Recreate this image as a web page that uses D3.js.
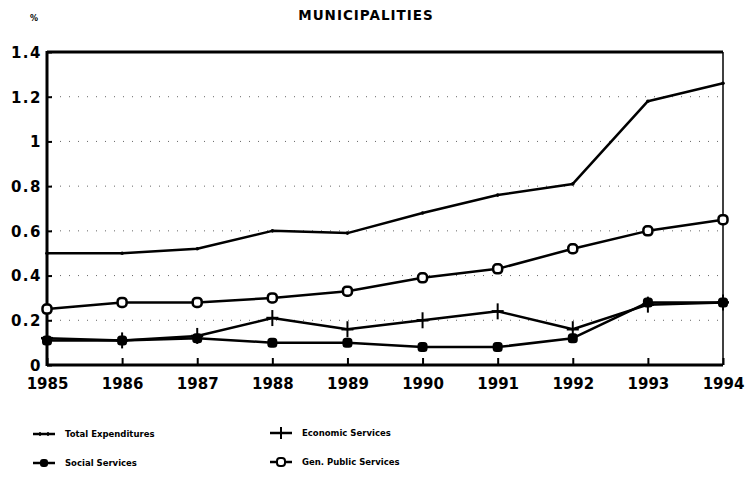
<!DOCTYPE html>
<html><head><meta charset="utf-8">
<script src="https://cdn.jsdelivr.net/npm/d3@7"></script>
<style>body{margin:0;background:#fff}svg{display:block}text{font-family:"DejaVu Sans",sans-serif;font-weight:bold;fill:#000}</style>
</head><body>
<svg id="c" width="746" height="479"></svg>
<script>
const years = [1985,1986,1987,1988,1989,1990,1991,1992,1993,1994];
const totalExp = [0.50,0.50,0.52,0.60,0.59,0.68,0.76,0.81,1.18,1.26];
const socialServ = [0.11,0.11,0.12,0.10,0.10,0.08,0.08,0.12,0.28,0.28];
const econServ = [0.12,0.11,0.13,0.21,0.16,0.20,0.24,0.16,0.27,0.28];
const genPublic = [0.25,0.28,0.28,0.30,0.33,0.39,0.43,0.52,0.60,0.65];
const yTicks = [0,0.2,0.4,0.6,0.8,1,1.2,1.4];
const seriesNames = ["Total Expenditures","Social Services","Economic Services","Gen. Public Services"];

const svg = d3.select("#c");
const L=47,R=723,T=52,B=365;
const x = d3.scaleLinear().domain([1985,1994]).range([L,R]);
const y = d3.scaleLinear().domain([0,1.4]).range([B,T]);

// title
svg.append("text").attr("x",366).attr("y",20).attr("text-anchor","middle").style("font-size","13.5px").style("letter-spacing","1px").text("MUNICIPALITIES");
svg.append("text").attr("x",30).attr("y",21).style("font-size","8px").text("%");

// dotted grid
svg.append("g").selectAll("line").data(yTicks.filter(d=>d>0&&d<1.4)).join("line")
  .attr("x1",L+4).attr("x2",R-4).attr("y1",d=>y(d)).attr("y2",d=>y(d))
  .attr("stroke","#666").attr("stroke-width",1).attr("stroke-dasharray","1,8");

// axes
const ya = d3.axisLeft(y).tickValues(yTicks).tickFormat(d=>String(+d.toFixed(1))).tickSize(-5).tickPadding(5);
const gy = svg.append("g").attr("transform",`translate(${L},0)`).call(ya);
gy.select(".domain").remove();
gy.selectAll("line").attr("stroke","#000").attr("stroke-width",2);
gy.selectAll("text").style("font-size","15px").style("letter-spacing","1.5px").attr("dy","0.36em");

const xa = d3.axisBottom(x).tickValues(years).tickFormat(d3.format("d")).tickSize(-7).tickPadding(13);
const gx = svg.append("g").attr("transform",`translate(0,${B})`).call(xa);
gx.select(".domain").remove();
gx.selectAll("line").attr("stroke","#000").attr("stroke-width",2);
gx.selectAll("text").style("font-size","15px").attr("dy","0.71em");

// frame
svg.append("line").attr("x1",L).attr("x2",L).attr("y1",T-1).attr("y2",B+1).attr("stroke","#000").attr("stroke-width",3);
svg.append("line").attr("x1",L).attr("x2",R).attr("y1",T).attr("y2",T).attr("stroke","#000").attr("stroke-width",3);
svg.append("line").attr("x1",L).attr("x2",R).attr("y1",B).attr("y2",B).attr("stroke","#000").attr("stroke-width",3);
svg.append("line").attr("x1",R).attr("x2",R).attr("y1",T).attr("y2",B).attr("stroke","#000").attr("stroke-width",1.5);

const line = d3.line().x((d,i)=>x(years[i])).y(d=>y(d));
const allSeries = [totalExp,socialServ,econServ,genPublic];
const markers = ["dot","filled","plus","open"];

function drawMarker(g,type,cx,cy){
  if(type==="dot"){ g.append("circle").attr("cx",cx).attr("cy",cy).attr("r",1.8).attr("fill","#000"); }
  else if(type==="filled"){ g.append("rect").attr("x",cx-5).attr("y",cy-5).attr("width",10).attr("height",10).attr("rx",3.5).attr("fill","#000"); }
  else if(type==="open"){ g.append("rect").attr("x",cx-4.5).attr("y",cy-4.5).attr("width",9).attr("height",9).attr("rx",3.5).attr("fill","#fff").attr("stroke","#000").attr("stroke-width",2.5); }
  else if(type==="plus"){ g.append("line").attr("x1",cx).attr("x2",cx).attr("y1",cy-8).attr("y2",cy+8).attr("stroke","#000").attr("stroke-width",2);
    g.append("line").attr("x1",cx-6).attr("x2",cx+6).attr("y1",cy).attr("y2",cy).attr("stroke","#000").attr("stroke-width",2.5); }
}

allSeries.forEach((s)=>{
  svg.append("path").datum(s).attr("d",line).attr("fill","none").attr("stroke","#000").attr("stroke-width",2.5).attr("stroke-linejoin","round");
});
allSeries.forEach((s,k)=>{
  const g = svg.append("g");
  s.forEach((v,i)=>drawMarker(g,markers[k],x(years[i]),y(v)));
});

// legend
const legPos = [[33,434,65],[33,463,65],[270,433,302],[270,462,302]];
seriesNames.forEach((n,k)=>{
  const [lx,ly,tx]=legPos[k];
  const g = svg.append("g");
  g.append("line").attr("x1",lx).attr("x2",lx+22).attr("y1",ly).attr("y2",ly).attr("stroke","#000").attr("stroke-width",2.5);
  const m = markers[k], cx = lx+11;
  if(m==="filled"){ g.append("rect").attr("x",cx-4).attr("y",ly-4).attr("width",8).attr("height",8).attr("rx",3).attr("fill","#000"); }
  else if(m==="open"){ g.append("rect").attr("x",cx-4).attr("y",ly-4).attr("width",8).attr("height",8).attr("rx",3).attr("fill","#fff").attr("stroke","#000").attr("stroke-width",2); }
  else if(m==="plus"){ g.append("line").attr("x1",cx).attr("x2",cx).attr("y1",ly-6).attr("y2",ly+6).attr("stroke","#000").attr("stroke-width",2); }
  else { g.append("line").attr("x1",cx-4).attr("x2",cx-4).attr("y1",ly-2).attr("y2",ly+2).attr("stroke","#000").attr("stroke-width",1.5);
         g.append("line").attr("x1",cx+4).attr("x2",cx+4).attr("y1",ly-2).attr("y2",ly+2).attr("stroke","#000").attr("stroke-width",1.5); }
  g.append("text").attr("x",tx).attr("y",ly).attr("dy","0.35em").style("font-size","8.5px").text(n);
});
</script>
</body></html>
